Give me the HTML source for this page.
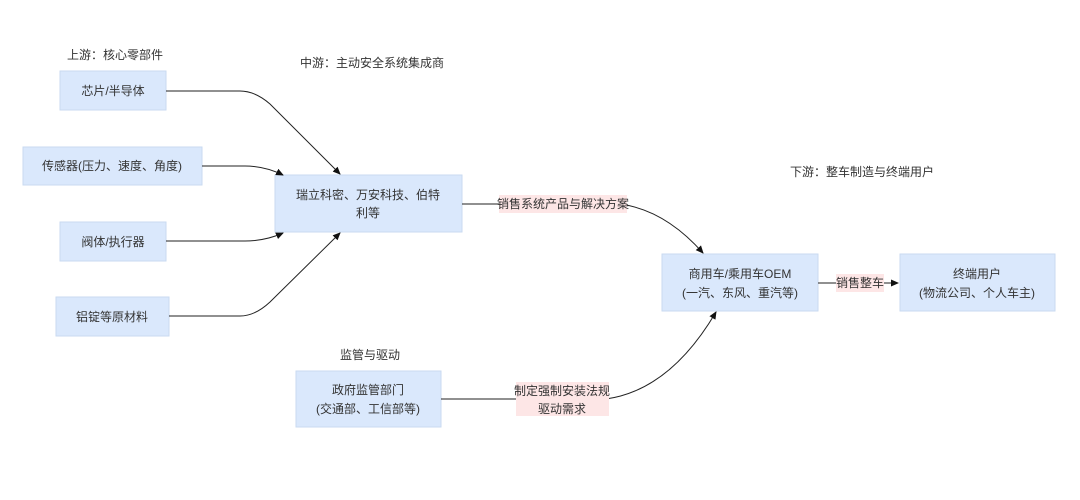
<!DOCTYPE html>
<html><head><meta charset="utf-8"><style>
html,body{margin:0;padding:0;background:#fff;}
svg{display:block;font-family:"Liberation Sans","Noto Sans CJK SC",sans-serif;}
text{font-size:12px;fill:#333;}
.b{fill:#dae8fc;stroke:#c9daf0;stroke-width:1;}
.l{fill:none;stroke:#222;stroke-width:1;}
.lb{fill:#fde6e6;}
</style></head><body>
<svg width="1080" height="500" viewBox="0 0 1080 500">
<defs><marker id="a" markerWidth="8" markerHeight="8" refX="7" refY="4" orient="auto" markerUnits="userSpaceOnUse"><path d="M0,0.5 L8,4 L0,7.5 Z" fill="#111"/></marker></defs>
<text x="67" y="59">上游：核心零部件</text>
<text x="300" y="67">中游：主动安全系统集成商</text>
<text x="790" y="176">下游：整车制造与终端用户</text>
<text x="340" y="359">监管与驱动</text>

<rect class="b" x="60" y="71" width="106" height="39"/><text x="113" y="95" text-anchor="middle">芯片/半导体</text>
<rect class="b" x="23" y="147" width="179" height="38"/><text x="112" y="170" text-anchor="middle">传感器(压力、速度、角度)</text>
<rect class="b" x="60" y="222" width="106" height="39"/><text x="113" y="246" text-anchor="middle">阀体/执行器</text>
<rect class="b" x="56" y="297" width="113" height="39"/><text x="112" y="321" text-anchor="middle">铝锭等原材料</text>
<rect class="b" x="275" y="175" width="187" height="57"/>
<text x="368" y="199" text-anchor="middle">瑞立科密、万安科技、伯特</text>
<text x="368" y="217" text-anchor="middle">利等</text>
<rect class="b" x="662" y="254" width="156" height="57"/>
<text x="740" y="278" text-anchor="middle">商用车/乘用车OEM</text>
<text x="740" y="297" text-anchor="middle">(一汽、东风、重汽等)</text>
<rect class="b" x="900" y="254" width="155" height="57"/>
<text x="977" y="278" text-anchor="middle">终端用户</text>
<text x="977" y="297" text-anchor="middle">(物流公司、个人车主)</text>
<rect class="b" x="296" y="371" width="145" height="56"/>
<text x="368" y="394" text-anchor="middle">政府监管部门</text>
<text x="368" y="413" text-anchor="middle">(交通部、工信部等)</text>

<path class="l" d="M166,91 L240,91 Q255,91 270,104 L340,174" marker-end="url(#a)"/>
<path class="l" d="M202,166 L245,166 Q265,166 283,175" marker-end="url(#a)"/>
<path class="l" d="M166,241 L245,241 Q265,241 283,233" marker-end="url(#a)"/>
<path class="l" d="M169,316 L240,316 Q255,316 270,302 L340,233" marker-end="url(#a)"/>
<path class="l" d="M462,204 L620,204 Q665,210 703,253" marker-end="url(#a)"/>
<path class="l" d="M818,283 L898,283" marker-end="url(#a)"/>
<path class="l" d="M441,399 L520,399"/>
<path class="l" d="M606,399 Q670,390 716,312" marker-end="url(#a)"/>

<rect class="lb" x="499" y="195" width="128" height="18"/>
<text x="563" y="208" text-anchor="middle">销售系统产品与解决方案</text>
<rect class="lb" x="836" y="274" width="48" height="18"/>
<text x="860" y="287" text-anchor="middle">销售整车</text>
<rect class="lb" x="516" y="382" width="93" height="34"/>
<text x="562" y="395" text-anchor="middle">制定强制安装法规</text>
<text x="562" y="413" text-anchor="middle">驱动需求</text>
</svg>
</body></html>
